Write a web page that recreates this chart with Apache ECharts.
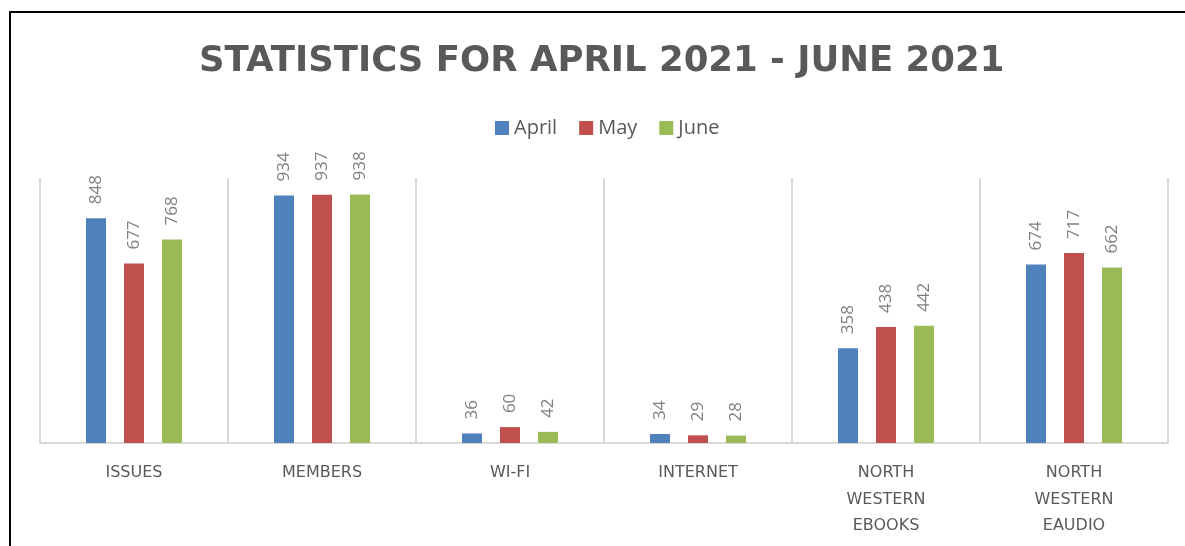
<!DOCTYPE html>
<html><head><meta charset="utf-8">
<script src="https://cdn.jsdelivr.net/npm/echarts@6/dist/echarts.min.js"></script>
<style>html,body{margin:0;padding:0;background:#fff}#c{width:1185px;height:546px}</style>
</head><body><div id="c"></div>
<script>
const categories = ['ISSUES', 'MEMBERS', 'WI-FI', 'INTERNET', 'NORTH\nWESTERN\nEBOOKS', 'NORTH\nWESTERN\nEAUDIO'];
const april = [848, 934, 36, 34, 358, 674];
const may = [677, 937, 60, 29, 438, 717];
const june = [768, 938, 42, 28, 442, 662];
const seriesNames = ['April', 'May', 'June'];
const colors = ['#4F81BD', '#C0504D', '#9BBB59'];
const titleText = 'STATISTICS FOR APRIL 2021 - JUNE 2021';

const font = '"Open Sans", sans-serif';
const wideFont = '"DejaVu Sans", sans-serif';
const chart = echarts.init(document.getElementById('c'), null, {renderer: 'canvas'});
const label = {
  show: true, position: 'top', rotate: 90, align: 'left', verticalAlign: 'middle',
  distance: 14, color: '#7f7f7f', fontSize: 17, fontFamily: font
};
chart.setOption({
  animation: false,
  title: {
    text: titleText, left: 194, top: 39,
    textStyle: {fontFamily: wideFont, fontWeight: 'bold', fontSize: 35.5, color: '#595959'}
  },
  legend: {
    data: seriesNames, top: 113, left: 490, icon: 'rect', itemWidth: 14, itemHeight: 14, itemGap: 22,
    textStyle: {fontFamily: font, fontSize: 20, color: '#595959'}
  },
  grid: {left: 40, right: 17, top: 178, bottom: 103, containLabel: false},
  xAxis: {
    type: 'category', data: categories,
    axisLine: {lineStyle: {color: '#d9d9d9', width: 2}},
    axisTick: {show: false},
    splitLine: {show: true, interval: 0, lineStyle: {color: '#d9d9d9', width: 2}},
    axisLabel: {interval: 0, margin: 17, color: '#595959', fontSize: 16, fontFamily: wideFont, lineHeight: 26.5}
  },
  yAxis: {type: 'value', min: 0, max: 1000, show: false, splitLine: {show: false}},
  graphic: [{type: 'rect', shape: {x: 10, y: 12, width: 1300, height: 700}, style: {fill: 'none', stroke: '#000', lineWidth: 2}, silent: true}],
  series: [
    {name: seriesNames[0], type: 'bar', data: april, itemStyle: {color: colors[0]}, barWidth: 20, barGap: '90%', label},
    {name: seriesNames[1], type: 'bar', data: may, itemStyle: {color: colors[1]}, barWidth: 20, barGap: '90%', label},
    {name: seriesNames[2], type: 'bar', data: june, itemStyle: {color: colors[2]}, barWidth: 20, barGap: '90%', label}
  ]
});
</script></body></html>
